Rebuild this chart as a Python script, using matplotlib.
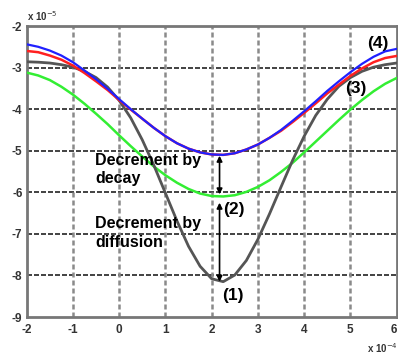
import matplotlib
matplotlib.use("Agg")
import matplotlib.pyplot as plt

x_vals = [-2.0, -1.75, -1.5, -1.25, -1.0, -0.75, -0.5, -0.25, 0.0, 0.25, 0.5, 0.75,
          1.0, 1.25, 1.5, 1.75, 2.0, 2.25, 2.5, 2.75, 3.0, 3.25, 3.5, 3.75,
          4.0, 4.25, 4.5, 4.75, 5.0, 5.25, 5.5, 5.75, 6.0]

curve1_black = [-2.86, -2.87, -2.89, -2.93, -2.99, -3.09, -3.24, -3.47, -3.79, -4.21, -4.74, -5.35,
                -6.02, -6.69, -7.30, -7.78, -8.08, -8.15, -7.99, -7.64, -7.13, -6.52, -5.87, -5.23,
                -4.65, -4.15, -3.76, -3.45, -3.24, -3.09, -2.99, -2.93, -2.89]

curve2_green = [-3.12, -3.19, -3.30, -3.46, -3.65, -3.87, -4.11, -4.36, -4.63, -4.89, -5.14, -5.38,
                -5.59, -5.77, -5.92, -6.03, -6.09, -6.10, -6.07, -5.99, -5.87, -5.71, -5.51, -5.29,
                -5.04, -4.78, -4.52, -4.26, -4.01, -3.78, -3.57, -3.39, -3.25]

curve3_red = [-2.60, -2.63, -2.71, -2.81, -2.95, -3.13, -3.33, -3.54, -3.78, -4.01, -4.23, -4.45,
              -4.65, -4.82, -4.95, -5.04, -5.09, -5.10, -5.06, -4.97, -4.85, -4.69, -4.52, -4.31,
              -4.09, -3.86, -3.62, -3.41, -3.20, -3.02, -2.87, -2.77, -2.72]

curve4_blue = [-2.44, -2.50, -2.59, -2.71, -2.87, -3.07, -3.28, -3.51, -3.76, -4.00, -4.23, -4.45,
               -4.65, -4.82, -4.95, -5.04, -5.09, -5.10, -5.06, -4.97, -4.85, -4.69, -4.50, -4.28,
               -4.05, -3.81, -3.56, -3.33, -3.11, -2.91, -2.74, -2.61, -2.55]

x_ticks = [-2, -1, 0, 1, 2, 3, 4, 5, 6]
x_tick_labels = ["-2", "-1", "0", "1", "2", "3", "4", "5", "6"]
y_ticks = [-9, -8, -7, -6, -5, -4, -3, -2]
y_tick_labels = ["-9", "-8", "-7", "-6", "-5", "-4", "-3", "-2"]

plt.rcParams['font.family'] = ['Liberation Sans', 'DejaVu Sans']

fig = plt.figure(figsize=(3.98, 3.54), dpi=100)
ax = fig.add_axes([0.067, 0.1045, 0.9297, 0.822])

ax.plot(x_vals, curve2_green, color='#33ee33', lw=1.8, zorder=3)
ax.plot(x_vals, curve1_black, color='#555555', lw=2.0, zorder=3)
ax.plot(x_vals, curve3_red, color='#ff2020', lw=1.8, zorder=4)
ax.plot(x_vals, curve4_blue, color='#2020ff', lw=1.6, zorder=5)

ax.set_xlim(-2, 6)
ax.set_ylim(-9, -2)
ax.set_xticks(x_ticks)
ax.set_xticklabels(x_tick_labels)
ax.set_yticks(y_ticks)
ax.set_yticklabels(y_tick_labels)
ax.tick_params(length=0, labelsize=8.5, colors='#333333', pad=5)
for lab in ax.get_xticklabels() + ax.get_yticklabels():
    lab.set_fontweight('bold')
ax.get_xticklabels()[-1].set_horizontalalignment('right')
ax.tick_params(axis='y', pad=3)

for yv in y_ticks[1:-1]:
    ax.axhline(yv, color='#222222', lw=1.2, dashes=(3, 1.2), zorder=1)
for xv in x_ticks[1:-1]:
    ax.axvline(xv, color='#8a8a8a', lw=1.8, dashes=(2, 1.2), zorder=1)

for s in ax.spines.values():
    s.set_color('#777777')
    s.set_linewidth(2)

# annotations
ax.annotate('', xy=(2.17, -5.12), xytext=(2.17, -6.05),
            arrowprops=dict(arrowstyle='<|-|>', color='black', lw=1.2,
                            mutation_scale=8, shrinkA=0, shrinkB=0), zorder=6)
ax.annotate('', xy=(2.17, -6.25), xytext=(2.17, -8.15),
            arrowprops=dict(arrowstyle='<|-|>', color='black', lw=1.2,
                            mutation_scale=8, shrinkA=0, shrinkB=0), zorder=6)

ax.text(-0.52, -5.05, 'Decrement by\ndecay', fontsize=11.5, fontweight='bold',
        ha='left', va='top', linespacing=1.3, zorder=7)
ax.text(-0.52, -6.57, 'Decrement by\ndiffusion', fontsize=11.5, fontweight='bold',
        ha='left', va='top', linespacing=1.3, zorder=7)

ax.text(2.46, -8.49, '(1)', fontsize=12.5, fontweight='bold', ha='center', va='center')
ax.text(2.49, -6.42, '(2)', fontsize=12.5, fontweight='bold', ha='center', va='center')
ax.text(5.12, -3.51, '(3)', fontsize=12.5, fontweight='bold', ha='center', va='center')
ax.text(5.60, -2.42, '(4)', fontsize=12.5, fontweight='bold', ha='center', va='center')

fig.text(27 / 398, 1 - 16 / 354, r'x 10$^{-5}$', fontsize=7, fontweight='bold',
         color='#333333', ha='left', va='center')
fig.text(367 / 398, 1 - 348 / 354, r'x 10$^{-4}$', fontsize=7, fontweight='bold',
         color='#333333', ha='left', va='center')

fig.savefig('out.png', dpi=100)
